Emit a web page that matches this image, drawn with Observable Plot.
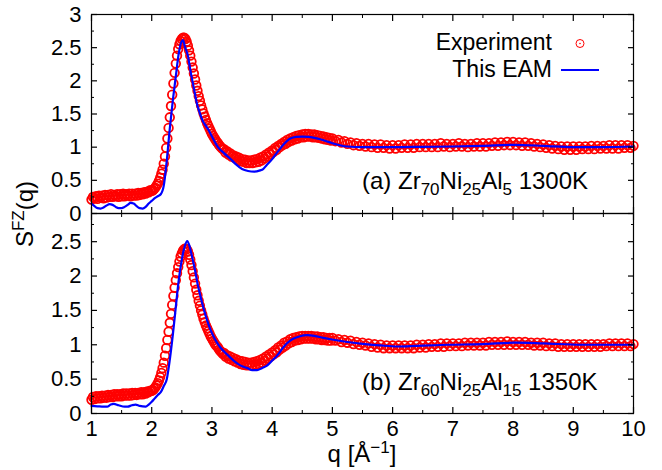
<!DOCTYPE html>
<html><head><meta charset="utf-8">
<script src="https://cdn.jsdelivr.net/npm/d3@7"></script>
<script src="https://cdn.jsdelivr.net/npm/@observablehq/plot@0.6"></script>
<style>
body{margin:0;background:#fff;}
#chart{position:relative;width:662px;height:470px;overflow:hidden;font-family:"Liberation Sans",Arial,Helvetica,sans-serif;color:#000;background:#fff;}
.lbl{position:absolute;white-space:nowrap;font-size:23px;line-height:23px;}
.big{font-size:24px;line-height:24px;}
.sub{font-size:17px;position:relative;top:6px;}
.sup{font-size:17px;position:relative;top:-9px;}
</style></head><body><div id="chart"></div>
<script>
// ---- data ----
// sampling grid of the measured curve: [start, step, count] per segment
const qExpSegments = [[1.0, 0.025, 40], [2.0, 0.02, 60], [3.2, 0.025, 72], [5.0, 0.05, 101]];

const sExpA = [
0.21,0.25,0.23,0.26,0.22,0.27,0.24,0.27,0.23,0.28,0.24,0.28,0.25,0.29,0.25,0.28,0.26,0.29,0.25,0.29,
0.26,0.30,0.26,0.29,0.27,0.30,0.26,0.30,0.27,0.30,0.27,0.31,0.28,0.31,0.29,0.32,0.30,0.33,0.32,0.35,
0.34,0.35,0.37,0.39,0.42,0.45,0.49,0.54,0.60,0.66,0.75,0.86,0.99,1.13,1.29,1.45,1.62,1.79,1.96,2.12,
2.26,2.38,2.48,2.55,2.60,2.63,2.65,2.65,2.63,2.59,2.53,2.46,2.38,2.29,2.20,2.11,2.02,1.93,1.85,1.77,
1.70,1.63,1.57,1.51,1.46,1.41,1.36,1.32,1.28,1.24,1.20,1.17,1.14,1.11,1.08,1.06,1.03,1.01,0.99,0.97,
0.97,0.92,0.94,0.89,0.91,0.86,0.88,0.84,0.86,0.81,0.84,0.79,0.82,0.78,0.81,0.76,0.80,0.76,0.80,0.76,
0.81,0.77,0.82,0.78,0.84,0.80,0.86,0.83,0.89,0.86,0.92,0.89,0.95,0.93,0.99,0.96,1.02,1.00,1.05,1.03,
1.08,1.05,1.11,1.08,1.13,1.10,1.15,1.12,1.17,1.13,1.18,1.15,1.19,1.15,1.20,1.16,1.20,1.16,1.19,1.15,
1.19,1.15,1.18,1.14,1.17,1.13,1.16,1.12,1.15,1.11,1.14,1.10,
1.13,1.09,1.11,1.07,1.09,1.05,1.07,1.03,1.06,1.02,1.05,1.01,1.05,1.00,1.04,0.99,1.04,0.99,1.03,0.98,
1.03,0.98,1.03,0.99,1.04,0.99,1.04,0.99,1.05,1.00,1.05,1.00,1.05,1.00,1.05,1.00,1.06,1.01,1.05,1.00,
1.05,1.01,1.06,1.01,1.05,1.00,1.05,1.01,1.06,1.01,1.06,1.01,1.06,1.02,1.07,1.02,1.07,1.03,1.08,1.03,
1.08,1.03,1.07,1.02,1.07,1.02,1.06,1.01,1.05,1.00,1.04,0.99,1.03,0.98,1.02,0.97,1.01,0.96,1.01,0.96,
1.01,0.96,1.01,0.97,1.01,0.97,1.02,0.97,1.02,0.98,1.02,0.98,1.03,0.98,1.03,0.98,1.03,0.99,1.03,0.99,
1.02];

const sExpB = [
0.20,0.24,0.21,0.25,0.22,0.25,0.22,0.26,0.23,0.26,0.23,0.27,0.24,0.27,0.24,0.28,0.25,0.28,0.25,0.28,
0.25,0.29,0.26,0.29,0.26,0.29,0.26,0.30,0.27,0.30,0.27,0.30,0.28,0.31,0.28,0.31,0.29,0.32,0.31,0.33,
0.33,0.34,0.36,0.38,0.41,0.44,0.48,0.53,0.59,0.66,0.74,0.84,0.95,1.07,1.19,1.32,1.45,1.58,1.71,1.83,
1.94,2.04,2.13,2.21,2.28,2.33,2.37,2.39,2.40,2.39,2.36,2.31,2.24,2.16,2.07,1.98,1.89,1.80,1.72,1.64,
1.57,1.50,1.44,1.38,1.33,1.28,1.24,1.20,1.16,1.12,1.09,1.06,1.03,1.00,0.98,0.96,0.93,0.91,0.89,0.87,
0.88,0.83,0.85,0.80,0.83,0.78,0.81,0.76,0.79,0.74,0.77,0.72,0.76,0.71,0.75,0.70,0.74,0.70,0.74,0.70,
0.75,0.71,0.76,0.72,0.78,0.74,0.80,0.77,0.83,0.80,0.86,0.83,0.89,0.86,0.92,0.89,0.96,0.93,0.99,0.96,
1.03,0.99,1.05,1.02,1.08,1.04,1.10,1.06,1.11,1.07,1.12,1.08,1.13,1.09,1.13,1.09,1.13,1.09,1.13,1.09,
1.12,1.08,1.12,1.08,1.11,1.07,1.11,1.07,1.10,1.06,1.10,1.06,
1.10,1.06,1.08,1.04,1.07,1.03,1.06,1.01,1.04,1.00,1.03,0.99,1.02,0.97,1.01,0.96,1.00,0.95,0.99,0.95,
0.99,0.95,0.99,0.95,0.99,0.95,0.99,0.95,1.00,0.96,1.00,0.96,1.01,0.97,1.01,0.97,1.02,0.97,1.02,0.98,
1.02,0.98,1.02,0.98,1.03,0.99,1.03,0.99,1.03,0.99,1.03,0.99,1.04,1.00,1.04,1.00,1.04,1.00,1.05,1.00,
1.04,1.00,1.04,1.00,1.04,1.00,1.03,0.99,1.03,0.99,1.03,0.98,1.02,0.98,1.02,0.97,1.01,0.97,1.01,0.97,
1.01,0.97,1.01,0.97,1.01,0.97,1.01,0.97,1.01,0.97,1.01,0.98,1.02,0.98,1.02,0.98,1.02,0.98,1.02,0.98,
1.01];

const qEamA = [1.00,1.05,1.10,1.15,1.20,1.25,1.30,1.35,1.40,1.45,1.50,1.55,1.60,1.65,1.70,1.75,1.80,1.85,1.90,1.95,2.00,2.05,2.10,2.15,2.20,2.25,2.30,2.35,2.40,2.45,2.50,2.52,2.55,2.60,2.65,2.70,2.75,2.80,2.85,2.90,2.95,3.00,3.10,3.20,3.30,3.40,3.50,3.60,3.70,3.80,3.85,3.90,4.00,4.10,4.20,4.30,4.40,4.50,4.60,4.70,4.80,4.90,5.00,5.25,5.50,6.00,6.50,7.00,7.50,8.00,8.50,9.00,9.50,10.00];
const sEamA = [0.15,0.11,0.08,0.075,0.09,0.12,0.14,0.13,0.10,0.08,0.08,0.10,0.13,0.16,0.15,0.11,0.08,0.075,0.10,0.15,0.19,0.23,0.26,0.29,0.42,0.80,1.28,1.70,2.07,2.42,2.60,2.615,2.52,2.38,2.12,1.89,1.66,1.51,1.39,1.32,1.25,1.16,1.00,0.91,0.83,0.74,0.67,0.64,0.63,0.65,0.67,0.72,0.82,0.94,1.05,1.13,1.155,1.16,1.155,1.14,1.12,1.09,1.06,1.01,1.00,1.00,1.005,1.01,1.02,1.035,1.02,1.00,1.00,1.01];

const qEamB = [1.00,1.10,1.20,1.26,1.32,1.37,1.45,1.55,1.60,1.67,1.73,1.80,1.90,1.95,2.00,2.05,2.10,2.15,2.20,2.25,2.30,2.35,2.40,2.45,2.50,2.55,2.59,2.63,2.67,2.72,2.76,2.80,2.87,2.93,2.98,3.05,3.14,3.25,3.36,3.47,3.59,3.67,3.75,3.83,3.92,4.00,4.08,4.20,4.30,4.36,4.45,4.58,4.70,4.85,4.97,5.25,5.54,5.80,6.09,6.40,6.92,7.50,8.02,8.50,9.13,9.60,10.00];
const sEamB = [0.11,0.105,0.10,0.10,0.13,0.14,0.12,0.10,0.10,0.12,0.13,0.11,0.10,0.13,0.17,0.22,0.27,0.31,0.40,0.50,0.78,1.14,1.55,1.95,2.24,2.44,2.51,2.43,2.28,2.08,1.89,1.74,1.50,1.33,1.21,1.08,0.96,0.86,0.77,0.70,0.66,0.63,0.63,0.66,0.70,0.77,0.84,0.98,1.06,1.09,1.12,1.14,1.13,1.10,1.08,1.04,1.01,0.99,0.975,0.985,1.00,1.01,1.03,1.02,1.00,1.00,1.00];

const xMajor = [1,2,3,4,5,6,7,8,9,10];
const xMinor = [1.5,2.5,3.5,4.5,5.5,6.5,7.5,8.5,9.5];
const yMajorA = [0,0.5,1,1.5,2,2.5,3];
const yMajorB = [0,0.5,1,1.5,2,2.5];
const yMinor = [0.25,0.75,1.25,1.75,2.25,2.75];
const seriesNames = ["Experiment", "This EAM"];
const colors = {exp: "#ff0000", eam: "#0000ff"};

// ---- build ----
const qExp = qExpSegments.flatMap(([start, step, n]) => Array.from({length: n}, (_, i) => +(start + i * step).toFixed(3)));
const toRows = (qs, ss) => qs.map((q, i) => ({q, s: ss[i]})).filter(d => d.s != null);
const blank = () => "";

function panel({exp, eam, yDomain, yMajor, height, marginTop, marginBottom, xLabels}) {
  const yMin = yMinor.filter(v => v < yDomain[1]);
  return Plot.plot({
    width: 662, height, marginLeft: 91, marginRight: 29, marginTop, marginBottom,
    x: {domain: [1, 10]},
    y: {domain: yDomain},
    style: {fontFamily: '"Liberation Sans", Arial, sans-serif', fontSize: "22px", background: "transparent", overflow: "visible", color: "#000"},
    marks: [
      Plot.dot(exp, {x: "q", y: "s", r: 4.3, stroke: colors.exp, strokeWidth: 1.8, fill: "none"}),
      Plot.line(eam, {x: "q", y: "s", stroke: colors.eam, strokeWidth: 2.2, curve: "monotone-x"}),
      Plot.frame({stroke: "#000", strokeWidth: 1.2}),
      Plot.axisX(xMajor, {anchor: "bottom", tickSize: -6, tickPadding: 13, tickFormat: xLabels ? (d => String(d)) : blank, label: null, strokeWidth: 1.2}),
      Plot.axisX(xMinor, {anchor: "bottom", tickSize: -3, tickFormat: blank, label: null}),
      Plot.axisX(xMajor, {anchor: "top", tickSize: -6, tickFormat: blank, label: null, strokeWidth: 1.2}),
      Plot.axisX(xMinor, {anchor: "top", tickSize: -3, tickFormat: blank, label: null}),
      Plot.axisY(yMajor, {anchor: "left", tickSize: -6, tickPadding: 16, tickFormat: d => String(d), label: null, strokeWidth: 1.2}),
      Plot.axisY(yMin, {anchor: "left", tickSize: -3, tickFormat: blank, label: null}),
      Plot.axisY(yMajor, {anchor: "right", tickSize: -6, tickFormat: blank, label: null, strokeWidth: 1.2}),
      Plot.axisY(yMin, {anchor: "right", tickSize: -3, tickFormat: blank, label: null})
    ]
  });
}

const chart = document.getElementById("chart");
const panelA = panel({exp: toRows(qExp, sExpA), eam: toRows(qEamA, sEamA), yDomain: [0, 3], yMajor: yMajorA, height: 216, marginTop: 14, marginBottom: 3, xLabels: false});
const panelB = panel({exp: toRows(qExp, sExpB), eam: toRows(qEamB, sEamB), yDomain: [0, 2.91], yMajor: yMajorB, height: 260, marginTop: 3, marginBottom: 57, xLabels: true});
for (const [el, t] of [[panelA, 0], [panelB, 210]]) {
  el.style.position = "absolute"; el.style.left = "0px"; el.style.top = t + "px";
  chart.appendChild(el);
}

function addLabel(html, css, cls) {
  const d = document.createElement("div");
  d.className = "lbl" + (cls ? " " + cls : ""); d.innerHTML = html;
  Object.assign(d.style, css);
  chart.appendChild(d);
  return d;
}
// legend
addLabel(seriesNames[0], {right: "110px", top: "31px"});
addLabel(seriesNames[1], {right: "110px", top: "58px"});
const lg = document.createElementNS("http://www.w3.org/2000/svg", "svg");
lg.setAttribute("width", 662); lg.setAttribute("height", 100);
lg.style.position = "absolute"; lg.style.left = "0px"; lg.style.top = "0px";
lg.innerHTML = `<circle cx="580" cy="43.5" r="4" fill="none" stroke="${colors.exp}" stroke-width="1"/><circle cx="580" cy="43.5" r="0.8" fill="${colors.exp}"/>
<line x1="561" x2="599" y1="70" y2="70" stroke="${colors.eam}" stroke-width="2.2"/>`;
chart.appendChild(lg);

// panel annotations
addLabel('(a) Zr<span class="sub">70</span>Ni<span class="sub">25</span>Al<span class="sub">5</span> 1300K', {left: "362px", top: "169px"}, "big");
addLabel('(b) Zr<span class="sub">60</span>Ni<span class="sub">25</span>Al<span class="sub">15</span> 1350K', {left: "362px", top: "370px"}, "big");

// axis titles
addLabel('q [Å<span class="sup">−1</span>]', {left: "362px", top: "442px", transform: "translateX(-50%)"}, "big");
addLabel('S<span class="sup">FZ</span>(q)', {left: "26px", top: "214px", transform: "translate(-50%,-50%) rotate(-90deg)"}, "big");
</script></body></html>
